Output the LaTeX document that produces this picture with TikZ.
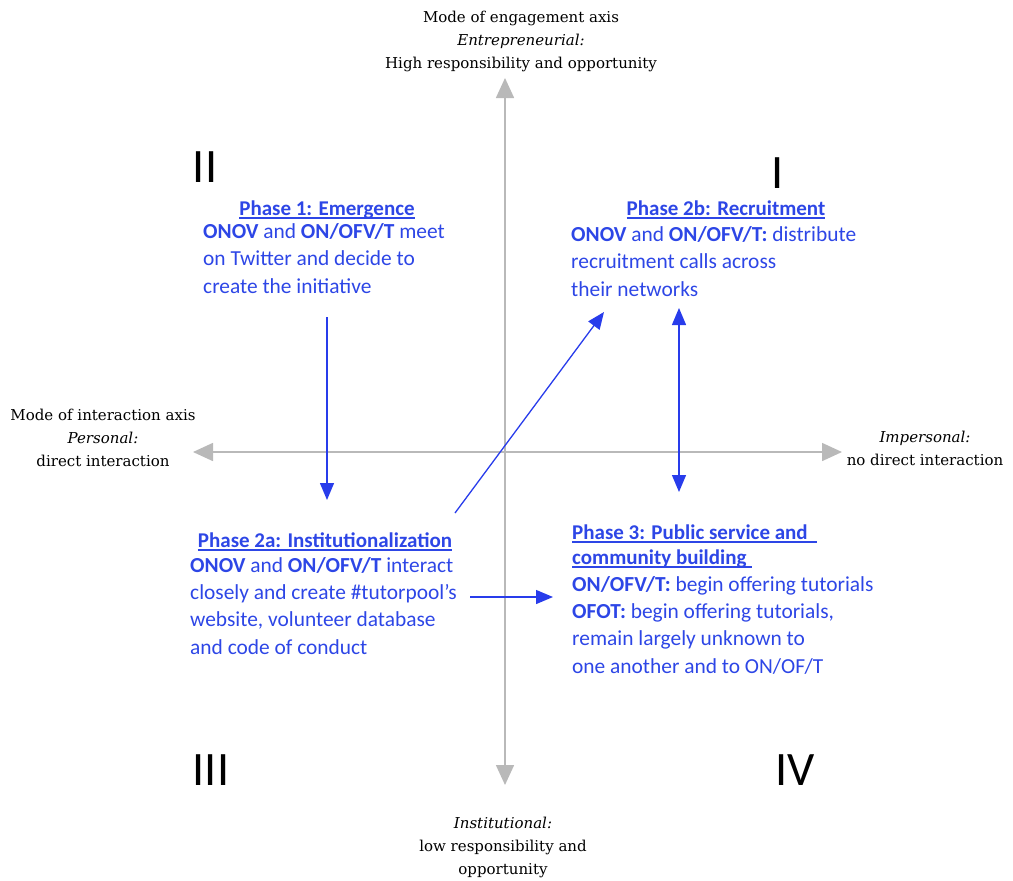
\documentclass[tikz,border=0pt]{standalone}
\usepackage{fontspec}
\setmainfont{Carlito}
\newfontfamily\axisfont{DejaVu Serif}
\usetikzlibrary{arrows.meta,calc}
\definecolor{phaseblue}{RGB}{45,70,230}
\definecolor{arrowblue}{RGB}{40,60,235}
\definecolor{axisgray}{RGB}{185,185,185}
\newcommand\phul[2][0pt]{\setbox0\hbox{#2}\rlap{\rule[-3.5pt]{\dimexpr\wd0+#1\relax}{1.3pt}}\box0}
\begin{document}
\begin{tikzpicture}[x=1pt,y=-1pt,
  axislbl/.style={font=\axisfont\fontsize{15}{23}\selectfont, align=center, inner sep=0pt},
  phasebody/.style={text=phaseblue, font=\fontsize{21.4}{27.3}\selectfont, align=left, inner sep=0pt},
  phasetitle/.style={text=phaseblue, font=\bfseries\fontsize{21}{25}\selectfont, align=left, inner sep=0pt},
  numeral/.style={font=\fontsize{48}{48}\selectfont, inner sep=0pt},
  axisline/.style={draw=axisgray, line width=1.6pt, {Triangle[width=18pt,length=20pt]}-{Triangle[width=18pt,length=20pt]}},
  flow/.style={draw=arrowblue, line width=1.3pt, -{Triangle[width=14pt,length=17pt]}},
  flowboth/.style={draw=arrowblue, line width=1.3pt, {Triangle[width=14pt,length=17pt]}-{Triangle[width=14pt,length=17pt]}}
]
\useasboundingbox (0,0) rectangle (1013,881);

% axis labels (base anchor = baseline of the last line)
\node[axislbl, anchor=base] (top) at (521,68) {Mode of engagement axis\\ \textit{Entrepreneurial:}\\ High responsibility and opportunity};
\node[axislbl, anchor=base] (left) at (103,466) {Mode of interaction axis\\ \textit{Personal:}\\ direct interaction};
\node[axislbl, anchor=base] (right) at (925,465) {\textit{Impersonal:}\\ no direct interaction};
\node[axislbl, anchor=base] (bottom) at (503,874) {\textit{Institutional:}\\ low responsibility and\\ opportunity};

% axes
\coordinate (vtop) at (505,78);
\coordinate (vbot) at (505,785);
\coordinate (hleft) at (193,452);
\coordinate (hright) at (842,452);
\draw[axisline] (vbot) -- (vtop);
\draw[axisline] (hleft) -- (hright);

% quadrant numerals
\node[numeral, anchor=base] (qII) at (205,182) {II};
\node[numeral, anchor=base] (qI) at (778,188) {I};
\node[numeral, anchor=base] (qIII) at (211,785) {III};
\node[numeral, anchor=base] (qIV) at (795,785) {IV};

% phases
\node[phasetitle, anchor=base] (p1t) at (327,215) {\phul{Phase 1: Emergence}};
\node[phasebody, anchor=base west] (p1) at (203,293) {\textbf{ONOV} and \textbf{ON/OFV/T} meet\\ on Twitter and decide to\\ create the initiative};

\node[phasetitle, anchor=base] (p2bt) at (726,215) {\phul{Phase 2b: Recruitment}};
\node[phasebody, anchor=base west] (p2b) at (571,296) {\textbf{ONOV} and \textbf{ON/OFV/T:} distribute\\ recruitment calls across\\ their networks};

\node[phasetitle, anchor=base] (p2at) at (325,547) {\phul{Phase 2a: Institutionalization}};
\node[phasebody, anchor=base west] (p2a) at (190,654) {\textbf{ONOV} and \textbf{ON/OFV/T} interact\\ closely and create \#tutorpool’s\\ website, volunteer database\\ and code of conduct};

\node[phasetitle, anchor=base west] (p3t) at (572,564) {\phul[9pt]{Phase 3: Public service and}\\ \phul[5pt]{community building}};
\node[phasebody, anchor=base west] (p3) at (572,673) {\textbf{ON/OFV/T:} begin offering tutorials\\ \textbf{OFOT:} begin offering tutorials,\\ remain largely unknown to\\ one another and to ON/OF/T};

% flows
\coordinate (f1s) at (327,317);
\coordinate (f1e) at (327,500);
\draw[flow] (f1s) -- (f1e);
\coordinate (f2s) at (455,513);
\coordinate (f2e) at (604,312);
\draw[flow] (f2s) -- (f2e);
\coordinate (f3s) at (679,308);
\coordinate (f3e) at (679,492);
\draw[flowboth] (f3s) -- (f3e);
\coordinate (f4s) at (470,597);
\coordinate (f4e) at (553,597);
\draw[flow] (f4s) -- (f4e);
\end{tikzpicture}
\end{document}
